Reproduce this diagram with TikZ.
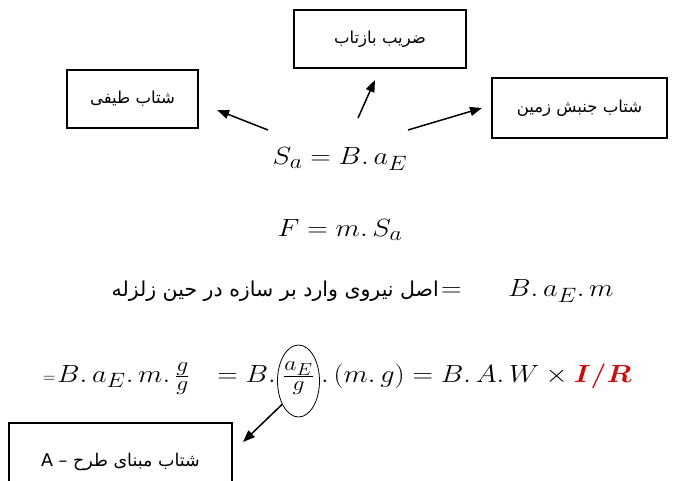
\documentclass[tikz,border=0pt]{standalone}
\usepackage{fontspec}
\usepackage{graphicx}
\usepackage{bm}
\usetikzlibrary{arrows.meta,shapes.geometric}
\TeXXeTstate=1
\newfontfamily\arabicfont[Script=Arabic]{DejaVu Sans}
\definecolor{irred}{RGB}{200,16,16}
\newcommand{\pd}{{.}\,}
\newcommand{\wx}[1]{\scalebox{1.14}[1]{#1}}
\begin{document}
\begin{tikzpicture}[x=1pt,y=-1pt,
  labelbox/.style={draw, line width=1.1pt, inner sep=0pt, font=\arabicfont\fontsize{16.5}{19}\selectfont},
  eqn/.style={inner sep=0pt, font=\fontsize{32.5}{38}\selectfont},
  arr/.style={-{Triangle[length=12pt,width=9pt]}, line width=1.5pt}]
\useasboundingbox[fill=white] (0,0) rectangle (686,481);
% boxes
\node[labelbox, minimum width=131pt, minimum height=58pt] (spec) at (132.5,99) {\beginR شتاب طیفی\endR};
\node[labelbox, minimum width=172pt, minimum height=58pt] (refl) at (380,39) {\beginR ضریب بازتاب\endR};
\node[labelbox, minimum width=175pt, minimum height=60pt] (ground) at (579.5,108) {\beginR شتاب جنبش زمین\endR};
\node[labelbox, minimum width=223pt, minimum height=78pt, font=\arabicfont\fontsize{17.5}{20}\selectfont] (design) at (120.5,462) {A – \beginR شتاب مبنای طرح\endR};
% equations
\node[eqn, anchor=base] (eq1) at (340,165) {\wx{$S_a = B\pd a_E$}};
\node[eqn, anchor=base] (eq2) at (340,237) {\wx{$F = m\pd S_a$}};
\node[inner sep=0pt, anchor=base east, font=\arabicfont\fontsize{20.5}{24}\selectfont] (txt3) at (439,297) {\beginR اصل نیروی وارد بر سازه در حین زلزله\endR};
\node[eqn, anchor=base west] (eq3eq) at (441,297) {\wx{$=$}};
\node[eqn, anchor=base west] (eq3) at (508,297) {\wx{$B\pd a_E\pd m$}};
% line 4
\node[inner sep=0pt, anchor=base west, font=\fontsize{16}{19}\selectfont] (l4eq) at (43,382) {$=$};
\node[eqn, anchor=base west] (l4a) at (57,382) {\wx{$B\pd a_E\pd m\pd \frac{g}{g}$}};
\node[eqn, anchor=base east] (l4b) at (276,382) {\wx{$= B{.}$}};
\node[eqn, inner sep=0pt, anchor=base] (frac) at (298.5,382) {\wx{$\frac{a_E}{g}$}};
\node[draw, ellipse, line width=0.8pt, inner sep=0pt, minimum width=42pt, minimum height=72pt] (ell) at (298.5,381) {};
\node[eqn, anchor=base west] (l4c) at (321,382) {\wx{${.}\,(m\pd g) = B\pd A\pd W \times \textcolor{irred}{\bm{I/R}}$}};
% arrows
\coordinate (s1) at (268,130); \coordinate (t1) at (217,110);
\coordinate (s2) at (358,118); \coordinate (t2) at (375,80);
\coordinate (s3) at (408,130); \coordinate (t3) at (482,108);
\coordinate (t4) at (243,442);
\draw[arr] (s1) -- (t1);
\draw[arr] (s2) -- (t2);
\draw[arr] (s3) -- (t3);
\draw[arr] (ell.235) -- (t4);
\end{tikzpicture}
\end{document}
